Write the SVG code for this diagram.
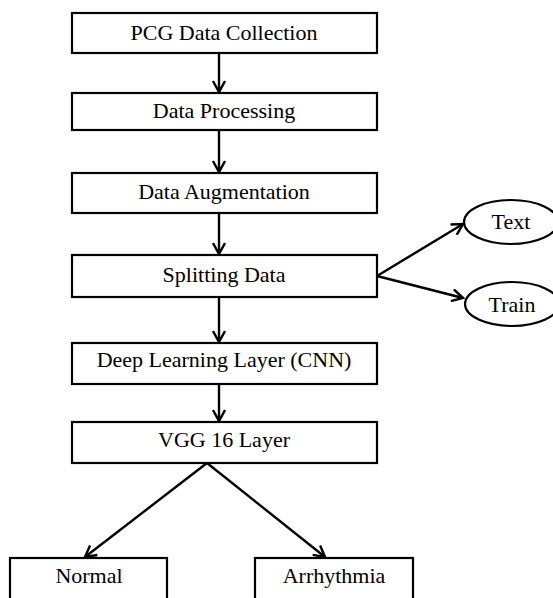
<svg xmlns="http://www.w3.org/2000/svg" width="553" height="598" viewBox="0 0 553 598">
<style>
.box{fill:#fff;stroke:#000;stroke-width:2.2}
.lbl{font-family:"Liberation Serif","Times New Roman",serif;font-size:22px;fill:#000;text-anchor:middle}
.con{fill:none;stroke:#000;stroke-width:2.4}
</style>
<defs>
<marker id="arr" viewBox="0 0 14 14" refX="12" refY="7" markerWidth="14" markerHeight="14" markerUnits="userSpaceOnUse" orient="auto">
<path d="M1,1 L12,7 L1,13" fill="none" stroke="#000" stroke-width="2.4"/>
</marker>
</defs>
<rect width="553" height="598" fill="#fff"/>
<g id="connectors">
<line class="con" x1="219" y1="53" x2="219" y2="92" marker-end="url(#arr)"/>
<line class="con" x1="219" y1="130" x2="219" y2="172" marker-end="url(#arr)"/>
<line class="con" x1="219" y1="213" x2="219" y2="254" marker-end="url(#arr)"/>
<line class="con" x1="219" y1="297" x2="219" y2="342" marker-end="url(#arr)"/>
<line class="con" x1="219" y1="384" x2="219" y2="421" marker-end="url(#arr)"/>
<line class="con" x1="377" y1="276" x2="463" y2="224" marker-end="url(#arr)"/>
<line class="con" x1="377" y1="276" x2="463" y2="298" marker-end="url(#arr)"/>
<line class="con" x1="207" y1="463" x2="85" y2="557" marker-end="url(#arr)"/>
<line class="con" x1="207" y1="463" x2="325" y2="557" marker-end="url(#arr)"/>
</g>
<g id="n1"><rect class="box" x="72" y="13" width="305" height="40"/><text class="lbl" x="224" y="40">PCG Data Collection</text></g>
<g id="n2"><rect class="box" x="72" y="93" width="305" height="37"/><text class="lbl" x="224" y="118">Data Processing</text></g>
<g id="n3"><rect class="box" x="72" y="173" width="305" height="40"/><text class="lbl" x="224" y="199">Data Augmentation</text></g>
<g id="n4"><rect class="box" x="72" y="255" width="305" height="42"/><text class="lbl" x="224" y="282">Splitting Data</text></g>
<g id="n5"><rect class="box" x="72" y="343" width="305" height="41"/><text class="lbl" x="224" y="367">Deep Learning Layer (CNN)</text></g>
<g id="n6"><rect class="box" x="72" y="422" width="305" height="41"/><text class="lbl" x="224" y="447">VGG 16 Layer</text></g>
<g id="n7"><ellipse class="box" cx="511" cy="222" rx="47" ry="22"/><text class="lbl" x="511" y="229">Text</text></g>
<g id="n8"><ellipse class="box" cx="512" cy="304" rx="47" ry="22"/><text class="lbl" x="512" y="312">Train</text></g>
<g id="n9"><rect class="box" x="10" y="558" width="157" height="50"/><text class="lbl" x="89" y="583">Normal</text></g>
<g id="n10"><rect class="box" x="255" y="558" width="158" height="50"/><text class="lbl" x="334" y="583">Arrhythmia</text></g>
</svg>
